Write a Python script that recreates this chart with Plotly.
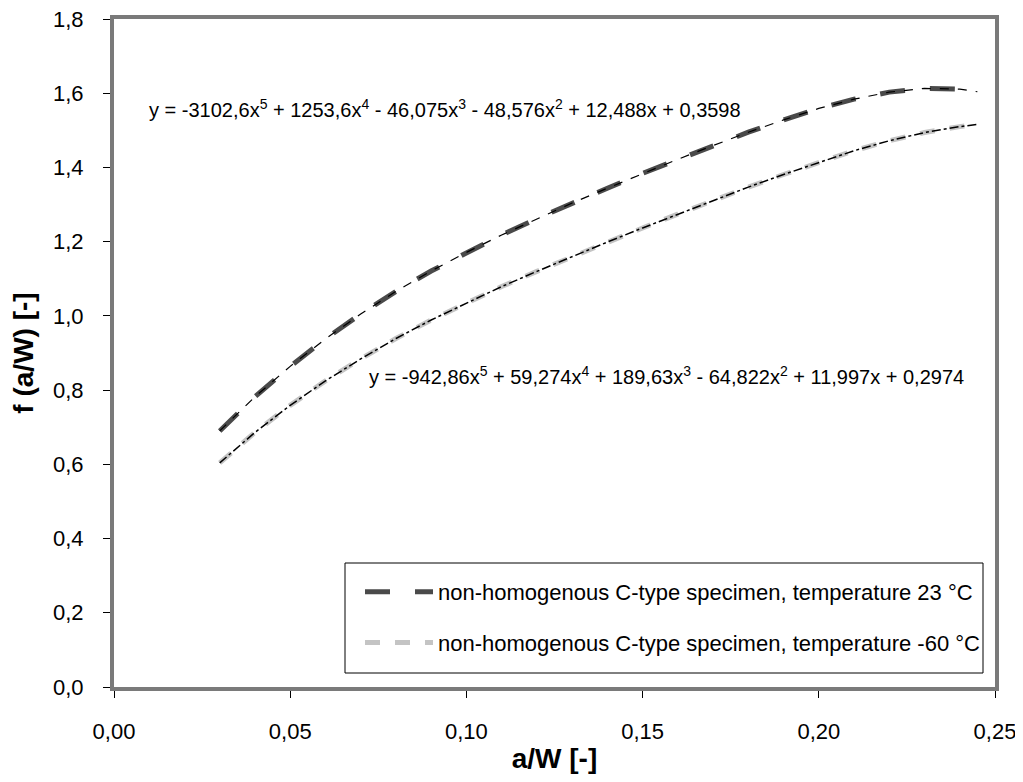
import plotly.graph_objects as go

# a/W values
aw = [0.03, 0.04, 0.05, 0.06, 0.07, 0.08, 0.09, 0.10, 0.11, 0.12, 0.13, 0.14,
      0.15, 0.16, 0.17, 0.18, 0.19, 0.20, 0.21, 0.22, 0.23, 0.24, 0.245]
# f(a/W), non-homogenous C-type specimen, 23 °C
f_23 = [0.690, 0.782, 0.864, 0.938, 1.005, 1.066, 1.121, 1.171, 1.218, 1.262,
        1.304, 1.344, 1.384, 1.422, 1.459, 1.495, 1.528, 1.559, 1.584, 1.603,
        1.613, 1.611, 1.604]
# f(a/W), non-homogenous C-type specimen, -60 °C
f_m60 = [0.604, 0.686, 0.759, 0.825, 0.884, 0.939, 0.989, 1.035, 1.079, 1.120,
         1.160, 1.199, 1.237, 1.274, 1.311, 1.347, 1.381, 1.414, 1.445, 1.472,
         1.494, 1.510, 1.516]

name_23 = "non-homogenous C-type specimen, temperature 23 °C"
name_m60 = "non-homogenous C-type specimen, temperature -60 °C"
eq_23 = "y = -3102,6x<sup>5</sup> + 1253,6x<sup>4</sup> - 46,075x<sup>3</sup> - 48,576x<sup>2</sup> + 12,488x + 0,3598"
eq_m60 = "y = -942,86x<sup>5</sup> + 59,274x<sup>4</sup> + 189,63x<sup>3</sup> - 64,822x<sup>2</sup> + 11,997x + 0,2974"

x_ticks = [0.00, 0.05, 0.10, 0.15, 0.20, 0.25]
y_ticks = [0.0, 0.2, 0.4, 0.6, 0.8, 1.0, 1.2, 1.4, 1.6, 1.8]

FONT = "Liberation Sans, Arial, sans-serif"

# page has an 8px body margin; figure sized to fit the window without scrolling
OFF = 8
FW, FH = 1023 - 2 * OFF, 782 - 2 * OFF
L, R, T, B = 114 - OFF, 995 - OFF, 19 - OFF, 687 - OFF
W, H = R - L, B - T


def px_x(page_x):
    return (page_x - OFF - L) / W


def px_y(page_y):
    return (B - (page_y - OFF)) / H


fig = go.Figure()
fig.add_trace(go.Scatter(x=aw, y=f_23, mode="lines", name=name_23, legendgroup="a",
                         line=dict(color="#4a4a4a", width=5, dash="longdash")))
fig.add_trace(go.Scatter(x=aw, y=f_m60, mode="lines", name=name_m60, legendgroup="b",
                         line=dict(color="#c4c4c4", width=5, dash="dash")))
# trendlines
fig.add_trace(go.Scatter(x=aw, y=f_23, mode="lines", showlegend=False,
                         line=dict(color="black", width=1.2, dash="dash")))
fig.add_trace(go.Scatter(x=aw, y=f_m60, mode="lines", showlegend=False,
                         line=dict(color="black", width=1.5, dash="dashdot")))

fig.add_annotation(x=0.0094, y=1.56, xref="x", yref="y", text=eq_23, showarrow=False,
                   xanchor="left", yanchor="middle", font=dict(family=FONT, size=20, color="black"))
fig.add_annotation(x=0.0718, y=0.84, xref="x", yref="y", text=eq_m60, showarrow=False,
                   xanchor="left", yanchor="middle", font=dict(family=FONT, size=20, color="black"))

# legend box
fig.add_shape(type="rect", xref="paper", yref="paper",
              x0=px_x(345), x1=px_x(983), y0=px_y(673), y1=px_y(563),
              line=dict(color="black", width=1), fillcolor="white", layer="above")

fig.update_layout(
    width=FW, height=FH,
    margin=dict(l=L, r=FW - R, t=T, b=FH - B, autoexpand=False),
    paper_bgcolor="white", plot_bgcolor="white",
    separators=", ",
    font=dict(family=FONT, color="black"),
    showlegend=True,
    legend=dict(x=px_x(360), y=px_y(571), xanchor="left", yanchor="top",
                bgcolor="rgba(0,0,0,0)", borderwidth=0,
                font=dict(family=FONT, size=22, color="black"),
                tracegroupgap=19, traceorder="grouped", itemwidth=68),
    xaxis=dict(range=[0, 0.25], tickvals=x_ticks, tickformat=".2f",
               showgrid=False, zeroline=False, automargin=False,
               ticklabeloverflow="allow",
               showline=True, linecolor="#7a7a7a", linewidth=4, mirror=True,
               ticks="outside", ticklen=7, tickcolor="black", tickwidth=1,
               tickfont=dict(family=FONT, size=22), ticklabelstandoff=15,
               title=dict(text="<b>a/W [-]</b>", font=dict(family=FONT, size=28), standoff=12)),
    yaxis=dict(range=[0, 1.8], tickvals=y_ticks, tickformat=".1f",
               showgrid=False, zeroline=False, automargin=False,
               ticklabeloverflow="allow",
               showline=True, linecolor="#7a7a7a", linewidth=4, mirror=True,
               ticks="outside", ticklen=7, tickcolor="black", tickwidth=1,
               tickfont=dict(family=FONT, size=22), ticklabelstandoff=15,
               title=dict(text="<b>f (a/W) [-]</b>", font=dict(family=FONT, size=28), standoff=18)),
)

fig.write_html("out.html")
